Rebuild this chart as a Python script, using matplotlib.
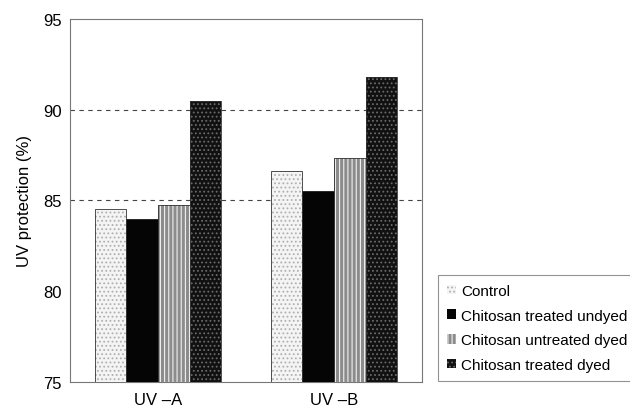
import matplotlib
matplotlib.use("Agg")
import matplotlib.pyplot as plt
import numpy as np

plt.rcParams['font.family'] = ['Liberation Sans', 'DejaVu Sans']
plt.rcParams['hatch.linewidth'] = 0.8

categories = ["UV –A", "UV –B"]
series_names = ["Control", "Chitosan treated undyed", "Chitosan untreated dyed", "Chitosan treated dyed"]
control = [84.5, 86.6]
treated_undyed = [84.0, 85.5]
untreated_dyed = [84.75, 87.35]
treated_dyed = [90.5, 91.8]
yticks = [75, 80, 85, 90, 95]

series = [control, treated_undyed, untreated_dyed, treated_dyed]
faces = ['#f4f4f4', '#050505', '#8c8c8c', '#111111']
hatches = ['....', None, '||||', '....']
hatch_cols = ['#b0b0b0', '#050505', '#f0f0f0', '#6a6a6a']

fig = plt.figure(figsize=(6.3, 4.14), dpi=100)
ax = fig.add_axes([0.111, 0.075, 0.559, 0.877])

x = np.arange(len(categories))
w = 0.18
for i, vals in enumerate(series):
    pos = x + (i - 1.5) * w
    ax.bar(pos, [v - 75 for v in vals], bottom=75, width=w,
           color=faces[i], edgecolor=hatch_cols[i], hatch=hatches[i],
           linewidth=0, label=series_names[i], zorder=3)
    ax.bar(pos, [v - 75 for v in vals], bottom=75, width=w, fill=False,
           edgecolor='#333333', linewidth=0.6, zorder=4)

ax.set_xlim(-0.5, 1.5)
ax.set_ylim(75, 95)
ax.set_yticks(yticks)
ax.set_xticks(x)
ax.set_xticklabels(categories, fontsize=12)
ax.tick_params(axis='y', labelsize=12, length=0, pad=6)
ax.tick_params(axis='x', length=0, pad=7)
for v in [85, 90]:
    ax.axhline(v, color='#444444', linestyle=(0, (4, 4)), linewidth=0.8, zorder=1)
for s in ax.spines.values():
    s.set_color('#777777')
    s.set_linewidth(0.8)
ax.set_ylabel("UV protection (%)", fontsize=12, labelpad=8)

handles, labels = ax.get_legend_handles_labels()
leg = fig.legend(handles, labels, loc='center left',
                 bbox_to_anchor=(0.683, 0.075, 0.317, 0.261),
                 fontsize=11, frameon=True, fancybox=False,
                 handlelength=0.6, handleheight=0.6, handletextpad=0.3,
                 labelspacing=0.7, borderpad=0.6)
leg.get_frame().set_edgecolor('#777777')
leg.get_frame().set_linewidth(0.8)

fig.savefig("out.png", dpi=100)
